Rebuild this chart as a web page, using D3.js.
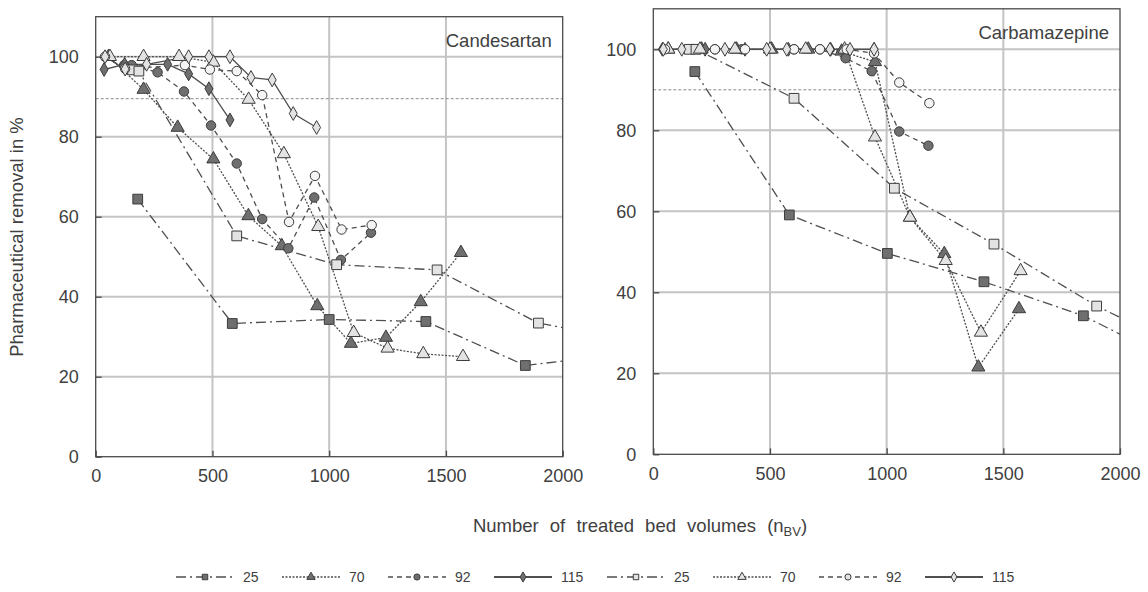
<!DOCTYPE html>
<html>
<head>
<meta charset="utf-8">
<script src="https://cdn.jsdelivr.net/npm/d3@7"></script>
<style>
  body { margin: 0; background: #fff; }
  svg text { font-family: "Liberation Sans", Arial, sans-serif; fill: #404040; }
</style>
</head>
<body>
<svg id="chart"></svg>
<script>
// Breakthrough of candesartan and carbamazepine vs. treated bed volumes

const W = 1148, H = 592;

const xTicks = [0, 500, 1000, 1500, 2000];
const yTicks = [0, 20, 40, 60, 80, 100];
const ebctLabels = ["25", "70", "92", "115"];

// [bed volumes, removal %] — dark markers = first set, light markers = second set
const candDark25  = [[180,64.4],[585,33.3],[1000,34.3],[1414,33.8],[1840,22.8],[2300,26]];
const candDark70  = [[55,100],[205,91.8],[351,82.3],[504,74.4],[654,60.2],[797,52.7],[949,37.7],[1093,28.3],[1243,29.8],[1392,38.7],[1564,51]];
const candDark92  = [[122,97.9],[154,97.9],[265,96.1],[378,91.3],[494,82.8],[604,73.3],[713,59.4],[825,52.1],[936,64.8],[1050,49.2],[1179,56]];
const candDark115 = [[36,96.8],[124,98.1],[308,98.1],[398,95.7],[485,92],[575,84.2]];
const candLight25  = [[158,96.7],[185,96.4],[604,55.2],[1032,48],[1462,46.7],[1896,33.4],[2300,29]];
const candLight70  = [[61,100],[205,100],[357,100],[504,98.6],[655,89.3],[806,75.7],[953,57.5],[1105,31],[1250,27.1],[1403,25.7],[1573,25]];
const candLight92  = [[40,100],[126,97],[382,97.9],[489,96.8],[604,96.4],[713,90.4],[828,58.7],[939,70.2],[1053,56.8],[1182,57.9]];
const candLight115 = [[40,100],[126,96.9],[218,98.1],[398,100],[485,100],[575,100],[665,94.8],[756,94.2],[846,85.8],[946,82.3]];

const carbDark25  = [[178,94.5],[583,59.1],[1003,49.6],[1417,42.6],[1843,34.2],[2300,21]];
const carbDark70  = [[64,100],[207,100],[357,100],[507,100],[664,100],[807,99.5],[950,96.9],[1100,58.5],[1247,49.5],[1393,21.5],[1567,35.9]];
const carbDark92  = [[264,100],[379,100],[603,100],[714,100],[824,97.8],[936,94.6],[1054,79.7],[1179,76.2]];
const carbDark115 = [[39,100],[222,100],[393,100],[579,100],[760,100],[946,100]];
const carbLight25  = [[154,100],[183,100],[603,87.9],[1033,65.7],[1460,51.9],[1900,36.6],[2300,25.5]];
const carbLight70  = [[64,100],[200,100],[350,100],[500,100],[653,100],[820,100],[950,78.3],[1100,58.5],[1253,47.8],[1404,30.1],[1574,45.3]];
const carbLight92  = [[50,100],[264,100],[393,100],[603,100],[714,100],[829,100],[946,99],[1054,91.8],[1183,86.7]];
const carbLight115 = [[43,100],[122,100],[307,100],[486,100],[572,100],[757,100],[843,100],[946,100]];

const candThreshold = 89.5;
const carbThreshold = 90;

const dashFor = { "25": "10,4,2,4", "70": "2,1.5", "92": "5,4", "115": null };
const symbolFor = { "25": d3.symbolSquare, "70": d3.symbolTriangle, "92": d3.symbolCircle, "115": d3.symbolDiamond };
const sizeFor = { "25": 95, "70": 75, "92": 70, "115": 55 };
const fillFor = { dark: "#6f6f6f", light: "#e3e3e3" };

const panels = [
  { name: "Candesartan", id: "cand", x0: 95.7, x1: 562.7, yBot: 456.7, yTop: 16.7, threshold: candThreshold,
    series: [
      { tone: "dark", ebct: "25", pts: candDark25 }, { tone: "dark", ebct: "70", pts: candDark70 },
      { tone: "dark", ebct: "92", pts: candDark92 }, { tone: "dark", ebct: "115", pts: candDark115 },
      { tone: "light", ebct: "25", pts: candLight25 }, { tone: "light", ebct: "70", pts: candLight70 },
      { tone: "light", ebct: "92", pts: candLight92 }, { tone: "light", ebct: "115", pts: candLight115 }
    ] },
  { name: "Carbamazepine", id: "carb", x0: 653.3, x1: 1120, yBot: 454.3, yTop: 8.8, threshold: carbThreshold,
    series: [
      { tone: "dark", ebct: "25", pts: carbDark25 }, { tone: "dark", ebct: "70", pts: carbDark70 },
      { tone: "dark", ebct: "92", pts: carbDark92 }, { tone: "dark", ebct: "115", pts: carbDark115 },
      { tone: "light", ebct: "25", pts: carbLight25 }, { tone: "light", ebct: "70", pts: carbLight70 },
      { tone: "light", ebct: "92", pts: carbLight92 }, { tone: "light", ebct: "115", pts: carbLight115 }
    ] }
];

const svg = d3.select("#chart").attr("width", W).attr("height", H);

panels.forEach(p => {
  const x = d3.scaleLinear().domain([0, 2000]).range([p.x0, p.x1]);
  const y = d3.scaleLinear().domain([0, 110]).range([p.yBot, p.yTop]);
  const g = svg.append("g");

  g.append("clipPath").attr("id", "clip-" + p.id)
    .append("rect").attr("x", p.x0).attr("y", p.yTop).attr("width", p.x1 - p.x0).attr("height", p.yBot - p.yTop);

  // grid
  g.selectAll(".hg").data(yTicks.filter(t => t > 0)).enter().append("line")
    .attr("x1", p.x0).attr("x2", p.x1).attr("y1", d => y(d)).attr("y2", d => y(d))
    .attr("stroke", "#c4c4c4").attr("stroke-width", 2);
  g.selectAll(".vg").data(xTicks.filter(t => t > 0 && t < 2000)).enter().append("line")
    .attr("x1", d => x(d)).attr("x2", d => x(d)).attr("y1", p.yTop).attr("y2", p.yBot)
    .attr("stroke", "#c4c4c4").attr("stroke-width", 2);

  // threshold
  g.append("line").attr("x1", p.x0).attr("x2", p.x1)
    .attr("y1", y(p.threshold)).attr("y2", y(p.threshold))
    .attr("stroke", "#8a8a8a").attr("stroke-width", 1).attr("stroke-dasharray", "3,2");

  // frame
  g.append("rect").attr("x", p.x0).attr("y", p.yTop).attr("width", p.x1 - p.x0).attr("height", p.yBot - p.yTop)
    .attr("fill", "none").attr("stroke", "#4a4a4a").attr("stroke-width", 1.3);

  // axes with inward ticks
  const xAxis = d3.axisBottom(x).tickValues(xTicks).tickFormat(d3.format("d"))
    .tickSizeInner(-6).tickSizeOuter(0).tickPadding(13);
  const yAxis = d3.axisLeft(y).tickValues(yTicks).tickFormat(d3.format("d"))
    .tickSizeInner(-6).tickSizeOuter(0).tickPadding(17);
  const gx = g.append("g").attr("transform", `translate(0,${p.yBot})`).call(xAxis);
  const gy = g.append("g").attr("transform", `translate(${p.x0},0)`).call(yAxis);
  [gx, gy].forEach(a => {
    a.select(".domain").remove();
    a.selectAll(".tick line").attr("stroke", "#4a4a4a").attr("stroke-width", 1.3);
    a.selectAll(".tick text").style("font-size", "18px").attr("fill", "#404040");
  });

  // lines
  const line = d3.line().x(d => x(d[0])).y(d => y(d[1]));
  const lg = g.append("g").attr("clip-path", `url(#clip-${p.id})`);
  p.series.forEach(s => {
    lg.append("path").datum(s.pts).attr("d", line)
      .attr("fill", "none").attr("stroke", "#4f4f4f").attr("stroke-width", 1.3)
      .attr("stroke-dasharray", dashFor[s.ebct]);
  });

  // markers
  p.series.forEach(s => {
    g.append("g").selectAll("path").data(s.pts.filter(d => d[0] <= 2000)).enter().append("path")
      .attr("d", d3.symbol().type(symbolFor[s.ebct]).size(sizeFor[s.ebct]))
      .attr("transform", d => `translate(${x(d[0])},${y(d[1])})`)
      .attr("fill", s.tone === "dark" ? fillFor.dark : (s.ebct === "92" ? "#f4f4f4" : fillFor.light))
      .attr("stroke", "#3c3c3c").attr("stroke-width", 1);
  });

  // panel name
  g.append("text").attr("x", p.x1 - 11).attr("y", p.yTop + 30)
    .attr("text-anchor", "end").style("font-size", "18.5px").text(p.name);
});

// axis titles
svg.append("text")
  .attr("transform", "translate(23,237) rotate(-90)")
  .attr("text-anchor", "middle").style("font-size", "18.5px")
  .text("Pharmaceutical removal in %");

const xt = svg.append("text").attr("x", 640).attr("y", 532)
  .attr("text-anchor", "middle").style("font-size", "18.5px").style("word-spacing", "6px");
xt.append("tspan").text("Number of treated bed volumes (n");
xt.append("tspan").attr("dy", 4).style("font-size", "13px").text("BV");
xt.append("tspan").attr("dy", -4).text(")");

// legend
const legendItems = [];
["dark", "light"].forEach(tone => ebctLabels.forEach(e => legendItems.push({ tone, ebct: e })));
const lgd = svg.append("g");
let lx = 176;
const ly = 577;
legendItems.forEach(it => {
  const lw = 58;
  lgd.append("line").attr("x1", lx).attr("x2", lx + lw).attr("y1", ly).attr("y2", ly)
    .attr("stroke", "#4f4f4f").attr("stroke-width", it.ebct === "115" ? 2 : 1.3)
    .attr("stroke-dasharray", dashFor[it.ebct]);
  lgd.append("path")
    .attr("d", d3.symbol().type(symbolFor[it.ebct]).size(30))
    .attr("transform", `translate(${lx + lw / 2},${ly})`)
    .attr("fill", it.tone === "dark" ? fillFor.dark : fillFor.light)
    .attr("stroke", "#3c3c3c").attr("stroke-width", 1);
  lgd.append("text").attr("x", lx + lw + 9).attr("y", ly + 5)
    .style("font-size", "14px").text(it.ebct);
  lx += it.ebct === "115" ? 113 : 106;
});
</script>
</body>
</html>
